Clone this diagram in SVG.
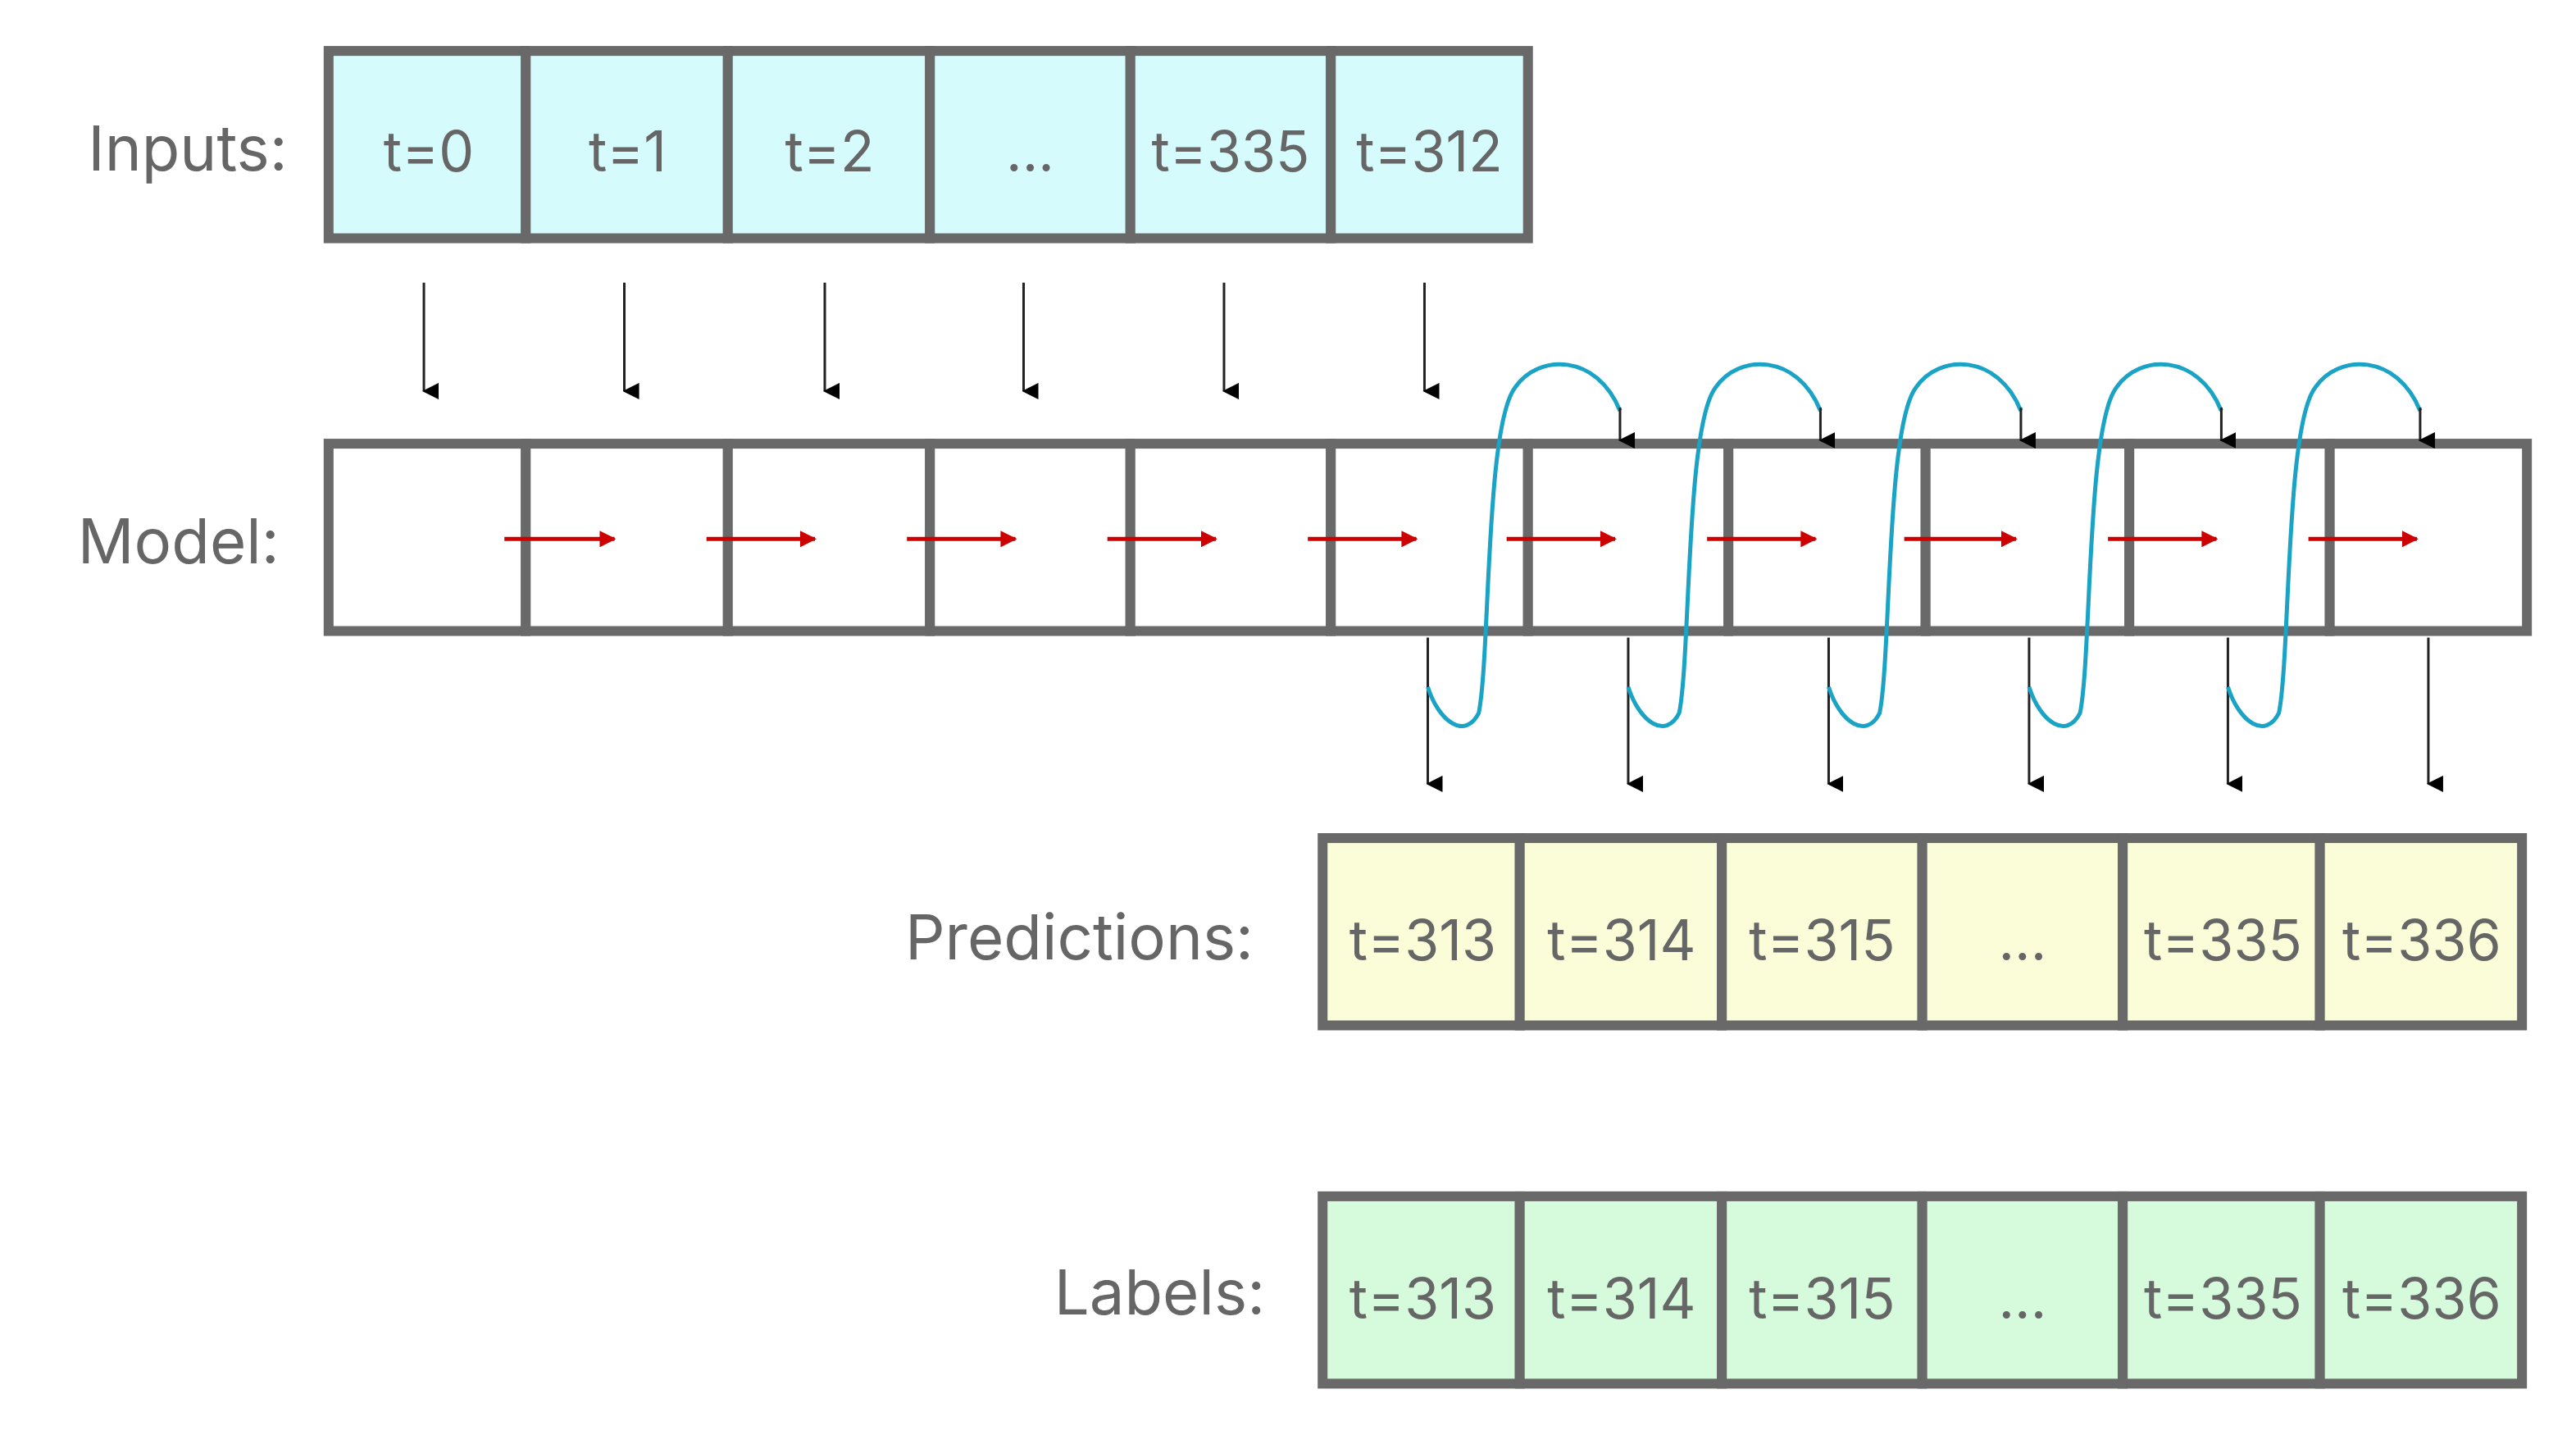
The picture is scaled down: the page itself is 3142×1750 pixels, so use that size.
<svg xmlns="http://www.w3.org/2000/svg" width="3142" height="1750" viewBox="0 0 3142 1750">
<style>
.cell{stroke:#696969;stroke-width:6}
.t{font-family:Inter,"Noto Sans",sans-serif;font-size:34px;fill:#666;text-anchor:middle;dominant-baseline:central}
.lbl{font-family:Inter,"Noto Sans",sans-serif;font-size:38px;fill:#666;text-anchor:end;dominant-baseline:central}
.blk{stroke:#222;stroke-width:1.5;fill:none}
.red{stroke:#cc0000;stroke-width:2.5;fill:none}
.blue{stroke:#1aa3c4;stroke-width:2.5;fill:none}
</style>
<defs>
<marker id="ab" markerWidth="10" markerHeight="10" refX="5" refY="9" orient="auto" markerUnits="userSpaceOnUse" viewBox="0 0 10 10"><path d="M0,0 L10,0 L5,10z" fill="#000"/></marker>
<marker id="ar" markerWidth="10" markerHeight="10" refX="9" refY="5" orient="auto" viewBox="0 0 10 10" markerUnits="userSpaceOnUse"><path d="M0,0 L10,5 L0,10z" fill="#cc0000"/></marker>
</defs>
<rect width="3142" height="1750" fill="#fff"/>
<g transform="scale(2.004)">
<g id="inputs">
<text class="lbl" x="175" y="90">Inputs:</text>
<rect class="cell" fill="#d6fbfd" x="200" y="31" width="120" height="114"/>
<rect class="cell" fill="#d6fbfd" x="320" y="31" width="123" height="114"/>
<rect class="cell" fill="#d6fbfd" x="443" y="31" width="123" height="114"/>
<rect class="cell" fill="#d6fbfd" x="566" y="31" width="122" height="114"/>
<rect class="cell" fill="#d6fbfd" x="688" y="31" width="122" height="114"/>
<rect class="cell" fill="#d6fbfd" x="810" y="31" width="120" height="114"/>
<text class="t" x="261" y="92">t=0</text><text class="t" x="382" y="92">t=1</text><text class="t" x="505" y="92">t=2</text><text class="t" x="627" y="92">...</text><text class="t" x="749" y="92">t=335</text><text class="t" x="870" y="92">t=312</text>
</g>
<g id="model">
<text class="lbl" x="170" y="329">Model:</text>
<rect class="cell" fill="#fff" x="200" y="270" width="120" height="114"/>
<rect class="cell" fill="#fff" x="320" y="270" width="123" height="114"/>
<rect class="cell" fill="#fff" x="443" y="270" width="123" height="114"/>
<rect class="cell" fill="#fff" x="566" y="270" width="122" height="114"/>
<rect class="cell" fill="#fff" x="688" y="270" width="122" height="114"/>
<rect class="cell" fill="#fff" x="810" y="270" width="120" height="114"/>
<rect class="cell" fill="#fff" x="930" y="270" width="122" height="114"/>
<rect class="cell" fill="#fff" x="1052" y="270" width="120" height="114"/>
<rect class="cell" fill="#fff" x="1172" y="270" width="124" height="114"/>
<rect class="cell" fill="#fff" x="1296" y="270" width="122" height="114"/>
<rect class="cell" fill="#fff" x="1418" y="270" width="120" height="114"/>
</g>
<g id="predictions">
<text class="lbl" x="763" y="570">Predictions:</text>
<rect class="cell" fill="#fbfdd8" x="805" y="510" width="120" height="114"/>
<rect class="cell" fill="#fbfdd8" x="925" y="510" width="123" height="114"/>
<rect class="cell" fill="#fbfdd8" x="1048" y="510" width="122" height="114"/>
<rect class="cell" fill="#fbfdd8" x="1170" y="510" width="122" height="114"/>
<rect class="cell" fill="#fbfdd8" x="1292" y="510" width="120" height="114"/>
<rect class="cell" fill="#fbfdd8" x="1412" y="510" width="123" height="114"/>
<text class="t" x="866" y="572">t=313</text><text class="t" x="987" y="572">t=314</text><text class="t" x="1109" y="572">t=315</text><text class="t" x="1231" y="572">...</text><text class="t" x="1353" y="572">t=335</text><text class="t" x="1474" y="572">t=336</text>
</g>
<g id="labels">
<text class="lbl" x="770" y="786">Labels:</text>
<rect class="cell" fill="#d6fbdc" x="805" y="728" width="120" height="114"/>
<rect class="cell" fill="#d6fbdc" x="925" y="728" width="123" height="114"/>
<rect class="cell" fill="#d6fbdc" x="1048" y="728" width="122" height="114"/>
<rect class="cell" fill="#d6fbdc" x="1170" y="728" width="122" height="114"/>
<rect class="cell" fill="#d6fbdc" x="1292" y="728" width="120" height="114"/>
<rect class="cell" fill="#d6fbdc" x="1412" y="728" width="123" height="114"/>
<text class="t" x="866" y="790">t=313</text><text class="t" x="987" y="790">t=314</text><text class="t" x="1109" y="790">t=315</text><text class="t" x="1231" y="790">...</text><text class="t" x="1353" y="790">t=335</text><text class="t" x="1474" y="790">t=336</text>
</g>
<g id="connectors">
<g marker-end="url(#ab)" class="blk">
<path d="M258,172V238"/><path d="M380,172V238"/><path d="M502,172V238"/><path d="M623,172V238"/><path d="M745,172V238"/><path d="M867,172V238"/>
<path d="M869,388V477"/><path d="M991,388V477"/><path d="M1113,388V477"/><path d="M1235,388V477"/><path d="M1356,388V477"/><path d="M1478,388V477"/>
</g>
<g marker-end="url(#ar)" class="red">
<path d="M307,328H374"/><path d="M430,328H496"/><path d="M552,328H618"/><path d="M674,328H740"/><path d="M796,328H862"/><path d="M917,328H983"/><path d="M1039,328H1105"/><path d="M1159,328H1227"/><path d="M1283,328H1349"/><path d="M1405,328H1471"/>
</g>
<g class="blue" id="loops">
<path id="lp" d="M869,418 C876,440 892,450 900,434 C907,400 904,260 922,236 C936,215 972,215 986,250"/>
<use href="#lp" x="122"/><use href="#lp" x="244"/><use href="#lp" x="366"/><use href="#lp" x="487"/>
</g>
<g marker-end="url(#ab)" fill="#000">
<path d="M986,248V268" class="blk" stroke-width="0.1"/><path d="M1108,248V268" class="blk" stroke-width="0.1"/><path d="M1230,248V268" class="blk" stroke-width="0.1"/><path d="M1352,248V268" class="blk" stroke-width="0.1"/><path d="M1473,248V268" class="blk" stroke-width="0.1"/>
</g>
</g>
</g>
</svg>
